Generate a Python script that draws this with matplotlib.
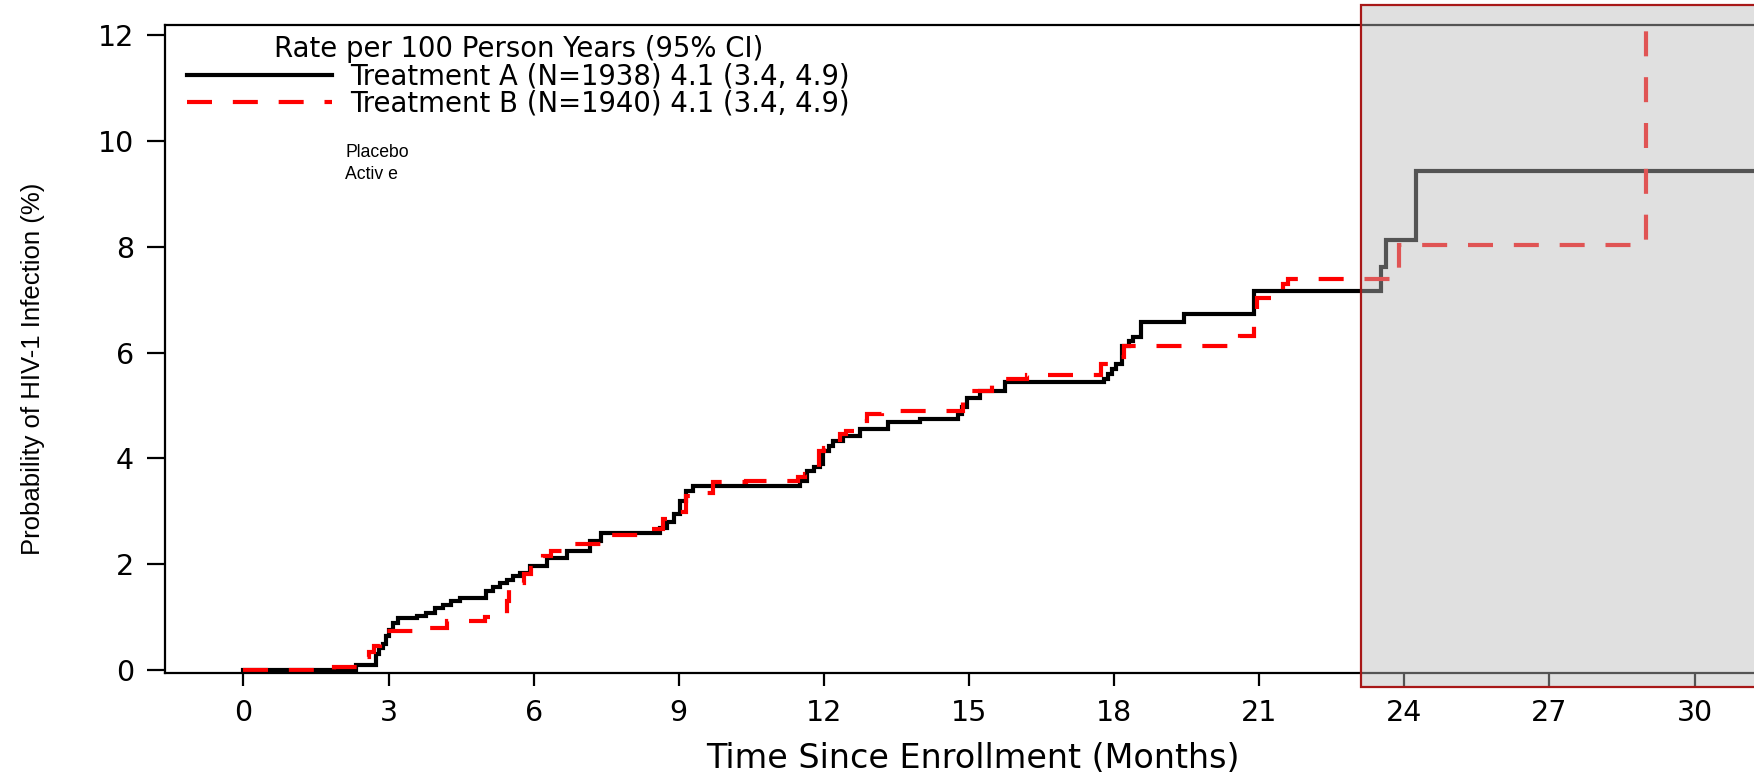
import matplotlib
matplotlib.use('Agg')
import matplotlib.pyplot as plt
from matplotlib.patches import Rectangle

# --- data (months, cumulative probability %) ---
months_a = [0, 2.33, 2.75, 2.8, 2.88, 2.95, 3.02, 3.09, 3.19, 3.58, 3.78, 3.96, 4.13, 4.3, 4.47,
            5.02, 5.16, 5.3, 5.44, 5.58, 5.71, 5.92, 6.27, 6.68, 7.16, 7.4, 8.61, 8.75, 8.9, 9.03,
            9.16, 9.3, 11.51, 11.65, 11.8, 11.92, 11.99, 12.1, 12.19, 12.4, 12.75, 13.33, 13.99,
            14.78, 14.85, 14.96, 15.23, 15.75, 17.79, 17.88, 17.95, 18.05, 18.16, 18.3, 18.4,
            18.55, 19.44, 20.89, 23.51, 23.62, 24.24]
prob_a = [0, 0.1, 0.3, 0.42, 0.5, 0.65, 0.75, 0.88, 0.99, 1.02, 1.08, 1.17, 1.22, 1.3, 1.36,
          1.49, 1.56, 1.64, 1.7, 1.78, 1.84, 1.97, 2.12, 2.25, 2.44, 2.59, 2.69, 2.8, 2.95, 3.2,
          3.39, 3.47, 3.58, 3.76, 3.83, 3.9, 4.14, 4.24, 4.33, 4.43, 4.55, 4.68, 4.74,
          4.84, 4.97, 5.15, 5.28, 5.44, 5.5, 5.6, 5.69, 5.79, 6.13, 6.22, 6.29,
          6.57, 6.73, 7.16, 7.61, 8.12, 9.43]

months_b = [0, 1.88, 2.5, 2.6, 2.7, 2.82, 2.9, 3.55, 4.2, 5.0, 5.45, 5.5, 5.8, 5.95, 6.2,
            6.35, 6.78, 7.5, 8.27, 8.68, 8.85, 9.16, 9.3, 9.7, 10.4, 11.47, 11.6, 11.9, 12.0,
            12.33, 12.45, 12.75, 12.9, 13.2, 14.88, 15.0, 15.48, 15.6, 16.2, 17.72, 17.9, 18.2,
            20.6, 20.89, 20.95, 21.5, 21.6, 23.89, 29.0]
prob_b = [0, 0.05, 0.25, 0.35, 0.45, 0.65, 0.74, 0.8, 0.93, 1.0, 1.3, 1.65, 1.81, 1.93, 2.16,
          2.25, 2.38, 2.55, 2.66, 2.85, 2.98, 3.29, 3.35, 3.56, 3.58, 3.64, 3.7, 4.14, 4.2,
          4.46, 4.52, 4.71, 4.84, 4.9, 5.15, 5.28, 5.44, 5.5, 5.58, 5.79, 5.91, 6.12,
          6.32, 6.73, 7.04, 7.3, 7.39, 8.03, 12.6]

follow_up_end = 32.0
shade_start = 23.1   # months, start of the grey highlighted window

label_a = 'Treatment A (N=1938) 4.1 (3.4, 4.9)'
label_b = 'Treatment B (N=1940) 4.1 (3.4, 4.9)'
legend_title = 'Rate per 100 Person Years (95% CI)'
group_names = ['Placebo', 'Activ e']

x_ticks = [0, 3, 6, 9, 12, 15, 18, 21, 24, 27, 30]
y_ticks = [0, 2, 4, 6, 8, 10, 12]


def draw():
    fig = plt.figure(figsize=(17.54, 7.75), dpi=100)
    ax = fig.add_axes([0.0941, 0.1312, 0.9208, 0.8365])

    ax.step(months_a + [follow_up_end], prob_a + [prob_a[-1]], where='post',
            color='black', lw=3.0, label=label_a, solid_joinstyle='miter')
    ax.step(months_b + [follow_up_end], prob_b + [prob_b[-1]], where='post',
            color='red', lw=3.0, dashes=(6.0, 5.0), label=label_b,
            dash_joinstyle='miter')

    ax.set_xlim(-1.62, 31.77)
    ax.set_ylim(-0.062, 12.19)
    ax.set_xticks(x_ticks)
    ax.set_yticks(y_ticks)
    ax.tick_params(axis='x', length=9.1, width=1.6, pad=9.5, labelsize=20.5)
    ax.tick_params(axis='y', length=12.7, width=1.6, pad=9.5, labelsize=20.5)

    for side in ['left', 'bottom', 'top']:
        ax.spines[side].set_linewidth(1.6)
    ax.spines['right'].set_visible(False)

    ax.set_xlabel('Time Since Enrollment (Months)', fontsize=24, labelpad=11)
    ax.set_ylabel('Probability of HIV-1 Infection (%)', fontsize=18.5,
                  family=['Liberation Sans', 'DejaVu Sans'])
    ax.yaxis.set_label_coords(-0.0745, 0.469)

    ax.legend(loc='upper left', bbox_to_anchor=(0.0134, 0.985), frameon=False,
              title=legend_title, fontsize=19.8, title_fontsize=19.8,
              handlelength=5.3, handletextpad=0.65, labelspacing=-0.02,
              borderpad=0, borderaxespad=0)

    ax.text(0.1116, 0.797, group_names[0], transform=ax.transAxes, fontsize=12.7,
            family=['Liberation Sans', 'DejaVu Sans'], va='baseline')
    ax.text(0.1116, 0.763, group_names[1], transform=ax.transAxes, fontsize=12.7,
            family=['Liberation Sans', 'DejaVu Sans'], va='baseline')

    # grey window over the late follow-up, drawn on top of the curves
    shade = Rectangle((shade_start, -0.32), 20, 12.89, transform=ax.transData,
                      facecolor=(187 / 255, 187 / 255, 187 / 255, 0.45),
                      edgecolor='#a81818', lw=1.6, zorder=5, clip_on=False)
    ax.add_patch(shade)

    fig.savefig('out.png', dpi=100)


if __name__ == '__main__':
    draw()
